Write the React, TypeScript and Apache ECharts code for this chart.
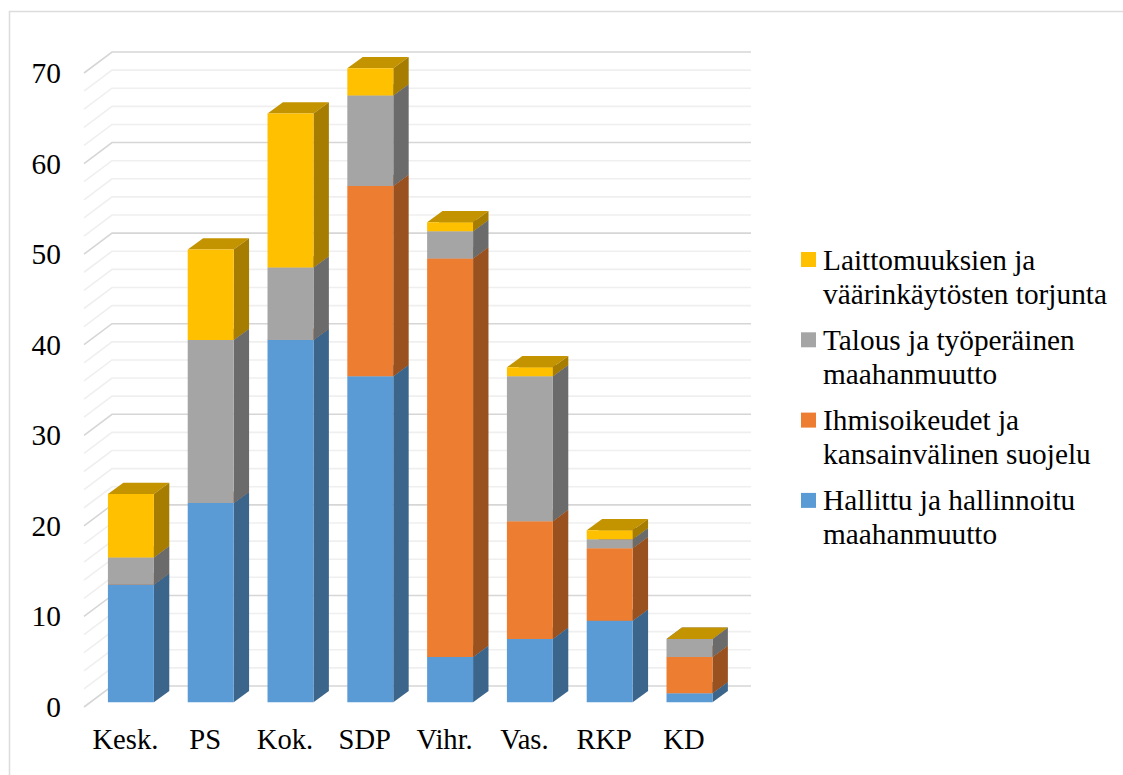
import React, { useEffect, useRef } from "react";
import * as echarts from "echarts";

const parties = ["Kesk.", "PS", "Kok.", "SDP", "Vihr.", "Vas.", "RKP", "KD"];
const hallittu = [13, 22, 40, 36, 5, 7, 9, 1];
const ihmisoikeudet = [0, 0, 0, 21, 44, 13, 8, 4];
const talous = [3, 18, 8, 10, 3, 16, 1, 2];
const laittomuus = [7, 10, 17, 3, 1, 1, 1, 0];
const gridValues = [0, 2, 4, 6, 8, 10, 12, 14, 16, 18, 20, 22, 24, 26, 28, 30, 32, 34, 36, 38, 40, 42, 44, 46, 48, 50, 52, 54, 56, 58, 60, 62, 64, 66, 68, 70];

const stacks = [
  { name: "Hallittu ja hallinnoitu\nmaahanmuutto", values: hallittu, front: "#5b9bd5", side: "#3b658a", top: "#467699" },
  { name: "Ihmisoikeudet ja\nkansainvälinen suojelu", values: ihmisoikeudet, front: "#ed7d31", side: "#9a5120", top: "#b66025" },
  { name: "Talous ja työperäinen\nmaahanmuutto", values: talous, front: "#a5a5a5", side: "#6b6b6b", top: "#7f7f7f" },
  { name: "Laittomuuksien ja\nväärinkäytösten torjunta", values: laittomuus, front: "#ffc000", side: "#a67d00", top: "#c49400" },
];

const FONT = "'Liberation Serif', 'Times New Roman', serif";
const DX = 15.4;
const DY = 11.3;

export default function App() {
  const ref = useRef<HTMLDivElement>(null);
  useEffect(() => {
    const chart = echarts.init(ref.current!, null, { renderer: "svg" });
    const running = parties.map(() => 0);
    const barSeries = stacks.map((s) => {
      const data = s.values.map((v, i) => {
        const row = [i, running[i], running[i] + v];
        running[i] += v;
        return row;
      });
      return {
        type: "custom",
        name: s.name,
        itemStyle: { color: s.front },
        encode: { x: 0, y: [1, 2] },
        data,
        z: 3,
        renderItem: (_p: any, api: any) => {
          const i = api.value(0);
          const lo = api.coord([i, api.value(1)]);
          const hi = api.coord([i, api.value(2)]);
          const w = api.size([1, 0])[0] * 0.576;
          const x0 = lo[0] - w / 2;
          const x1 = lo[0] + w / 2;
          const y0 = lo[1];
          const y1 = hi[1];
          const children: any[] = [];
          children.push({
            type: "polygon",
            shape: { points: [[x0, y1], [x1, y1], [x1 + DX, y1 - DY], [x0 + DX, y1 - DY]] },
            style: { fill: s.top },
          });
          if (y0 - y1 > 0.01) {
            children.push({
              type: "polygon",
              shape: { points: [[x1, y1], [x1 + DX, y1 - DY], [x1 + DX, y0 - DY], [x1, y0]] },
              style: { fill: s.side },
            });
            children.push({
              type: "rect",
              shape: { x: x0, y: y1, width: w, height: y0 - y1 },
              style: { fill: s.front },
            });
          }
          return { type: "group", children };
        },
      };
    });
    const gridSeries = {
      type: "custom",
      name: "grid",
      silent: true,
      encode: { y: 1 },
      data: gridValues.map((v) => [0, v]),
      z: 1,
      renderItem: (params: any, api: any) => {
        const v = api.value(1);
        const y = api.coord([0, v])[1];
        const gx = params.coordSys.x;
        return {
          type: "polyline",
          shape: { points: [[gx - 7, y + 4.7], [gx + 21, y - 16.3], [gx + 660, y - 16.3]] },
          style: { fill: "none", stroke: v % 10 === 0 ? "#d6d6d6" : "#efefef", lineWidth: 1.6 },
          z2: v % 10 === 0 ? 2 : 1,
        };
      },
    };
    chart.setOption({
      animation: false,
      backgroundColor: "#ffffff",
      grid: { left: 91, top: 68.3, width: 638.4, height: 634 },
      xAxis: {
        type: "category",
        data: parties,
        axisLine: { show: false },
        axisTick: { show: false },
        axisLabel: { color: "#000", fontFamily: FONT, fontSize: 28.6, margin: 23, padding: [0, 11, 0, 0], interval: 0 },
      },
      yAxis: {
        type: "value",
        min: 0,
        max: 70,
        interval: 10,
        axisLine: { show: false },
        axisTick: { show: false },
        splitLine: { show: false },
        axisLabel: { color: "#000", fontFamily: FONT, fontSize: 29.4, margin: 30, verticalAlign: "top", lineHeight: 9.4 },
      },
      legend: {
        orient: "vertical",
        left: 801,
        top: 208.5,
        itemWidth: 15,
        itemHeight: 15,
        itemGap: -21.7,
        padding: 0,
        icon: "rect",
        selectedMode: false,
        data: [...stacks].reverse().map((s) => s.name),
        formatter: (n: string) => "\n" + n,
        textStyle: { color: "#000", fontFamily: FONT, fontSize: 29.3, lineHeight: 34, padding: [0, 0, 0, 2] },
      },
      graphic: [
        {
          type: "rect",
          silent: true,
          z: -10,
          shape: { x: 9.5, y: 11.5, width: 1125, height: 775 },
          style: { fill: "none", stroke: "#dcdcdc", lineWidth: 1.5 },
        },
      ],
      series: [gridSeries, ...barSeries],
    });
    return () => chart.dispose();
  }, []);
  return <div ref={ref} style={{ position: "fixed", left: 0, top: 0, width: 1123, height: 775 }} />;
}
